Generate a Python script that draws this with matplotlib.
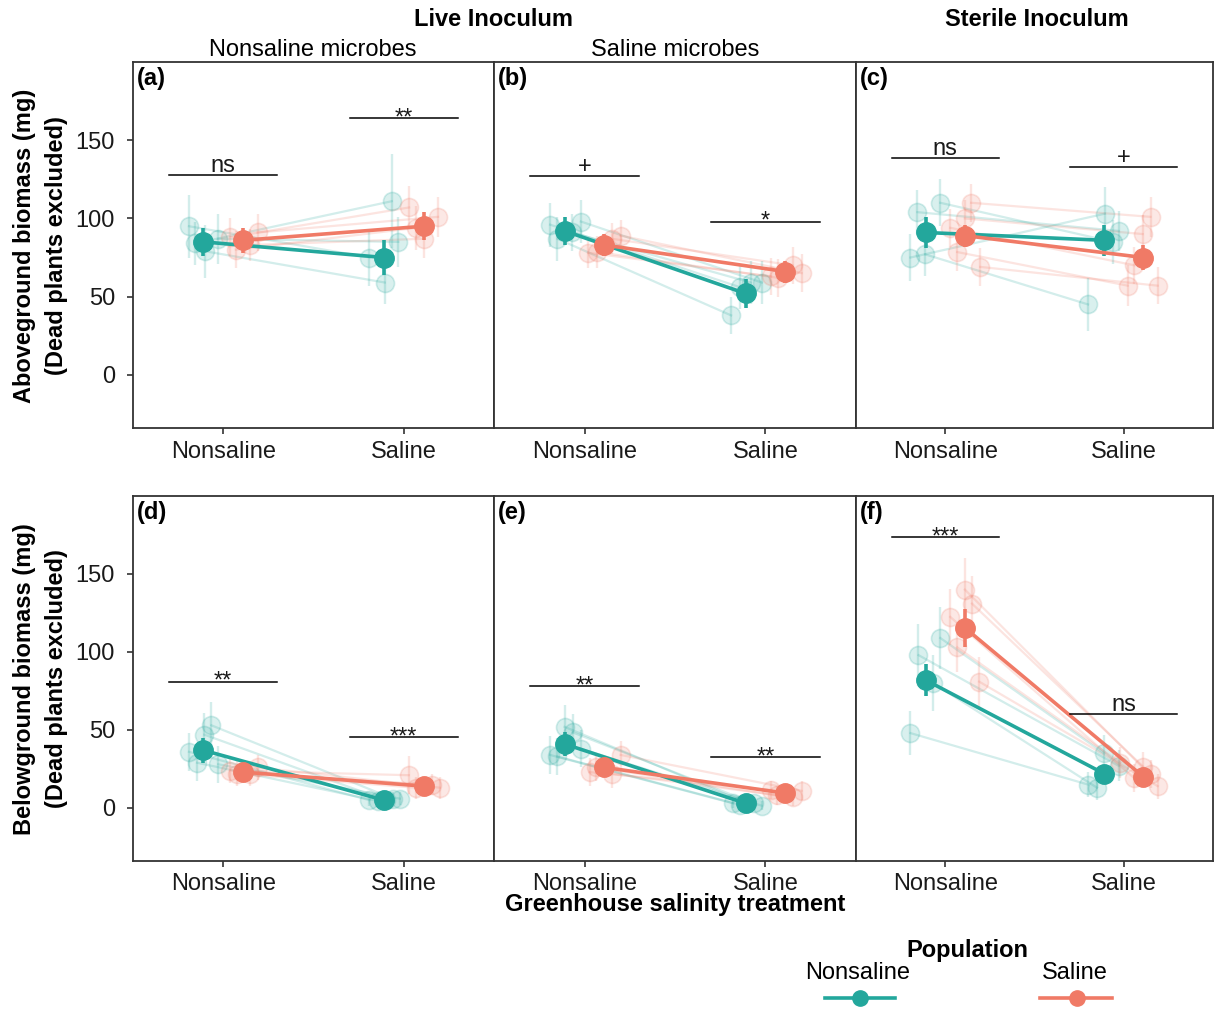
import matplotlib
matplotlib.use('Agg')
import matplotlib.pyplot as plt
from matplotlib.lines import Line2D
from matplotlib.colors import to_rgba

plt.rcParams['font.family'] = ['Liberation Sans', 'DejaVu Sans']

# colours
TEAL = '#23A79C'
SALM = '#F07A66'

# treatments on x
treatments = ['Nonsaline', 'Saline']
panels = ['(a)', '(b)', '(c)', '(d)', '(e)', '(f)']

# group means (Nonsaline population / Saline population), panels a-f
mean_teal_ns = [85, 92, 91, 37, 41, 82]
err_teal_ns = [9, 9, 10, 8, 8, 10]
mean_teal_sa = [75, 52, 86, 5, 3, 22]
err_teal_sa = [11, 9, 10, 2, 2, 4]
mean_sal_ns = [86, 83, 89, 23, 26, 115.5]
err_sal_ns = [8, 7, 7, 4, 4, 12]
mean_sal_sa = [95, 66, 75, 14, 9.5, 20]
err_sal_sa = [9, 7, 8, 3, 3, 4]

# single populations: (x offset ns, y ns, err ns, x offset sa, y sa, err sa)
teal_a = [(-0.19, 95, 20, -0.19, 75, 18), (-0.155, 84, 14, -0.066, 111, 30),
          (-0.10, 79, 17, -0.105, 59, 14), (-0.03, 87, 16, -0.03, 85, 16)]
sal_a = [(0.04, 88, 12, 0.03, 107, 14), (0.07, 80, 12, 0.07, 94, 14),
         (0.15, 83, 10, 0.11, 87, 12), (0.19, 91, 12, 0.19, 101, 13)]
teal_b = [(-0.19, 96, 14, -0.14, 56, 14), (-0.15, 87, 14, -0.19, 38, 12),
          (-0.02, 98, 14, -0.02, 59, 14), (-0.07, 91, 12, -0.08, 59, 14)]
sal_b = [(0.02, 78, 10, 0.03, 63, 12), (0.07, 78.5, 10, 0.07, 62, 12),
         (0.15, 87, 10, 0.15, 70, 12), (0.20, 89, 10, 0.20, 65, 12)]
teal_c = [(-0.156, 104, 14, -0.028, 92, 13), (-0.028, 110, 15, -0.06, 85, 14),
          (-0.195, 75, 15, -0.106, 103, 17), (-0.112, 77, 14, -0.20, 45, 17)]
sal_c = [(0.145, 110, 12, 0.15, 101, 13), (0.11, 100, 12, 0.106, 90, 12),
         (0.028, 94, 12, 0.06, 70, 12), (0.067, 78.5, 12, 0.022, 57, 13),
         (0.196, 69, 12, 0.19, 57, 12)]
teal_d = [(-0.19, 36, 12, -0.19, 5, 4), (-0.145, 29, 12, -0.144, 4.5, 4),
          (-0.105, 47, 14, -0.10, 5, 4), (-0.066, 53, 15, -0.06, 6, 4),
          (-0.028, 28, 12, -0.022, 6, 4)]
sal_d = [(0.04, 24, 8, 0.028, 21, 12), (0.077, 22, 8, 0.066, 13, 7),
         (0.15, 22, 8, 0.155, 15, 7), (0.19, 26, 8, 0.20, 13, 7)]
teal_e = [(-0.19, 34, 12, -0.18, 3, 3), (-0.15, 33, 12, -0.14, 2, 3),
          (-0.11, 52, 14, -0.10, 3, 3), (-0.066, 48.5, 12, -0.066, 3, 3),
          (-0.022, 38, 12, -0.022, 1.5, 3)]
sal_e = [(0.028, 23, 9, 0.033, 11.5, 6), (0.066, 26, 9, 0.066, 8, 6),
         (0.15, 22, 9, 0.15, 7, 6), (0.20, 34, 9, 0.20, 11, 6)]
teal_f = [(-0.195, 48, 14, -0.20, 15, 8), (-0.15, 98, 20, -0.028, 27, 10),
          (-0.028, 109, 20, -0.11, 35, 12), (-0.067, 80, 18, -0.15, 13, 8)]
sal_f = [(0.11, 140, 20, 0.106, 26, 10), (0.15, 131, 18, 0.15, 22, 9),
         (0.028, 122.5, 18, 0.06, 19, 9), (0.067, 103, 16, -0.02, 29, 10),
         (0.19, 81, 16, 0.19, 14, 8)]
teal_pops = [teal_a, teal_b, teal_c, teal_d, teal_e, teal_f]
sal_pops = [sal_a, sal_b, sal_c, sal_d, sal_e, sal_f]

# significance brackets
sig_left = ['ns', '+', 'ns', '**', '**', '***']
sig_left_y = [128, 127, 138.5, 81, 78, 173.5]
sig_right = ['**', '*', '+', '***', '**', 'ns']
sig_right_y = [164, 98, 133, 45.5, 32.5, 60.5]

FS = 17

fig = plt.figure(figsize=(12.14, 10.09), dpi=100)

lefts = [133 / 1214, 494 / 1214, 856 / 1214]
widths = [361 / 1214, 362 / 1214, 357 / 1214]
rows = [(1 - 428 / 1009, 366 / 1009), (1 - 861 / 1009, 365 / 1009)]


def faint(ax, pops, col):
    for o1, y1, e1, o2, y2, e2 in pops:
        xs = [1 + o1, 2 + o2]
        ys = [y1, y2]
        ax.plot(xs, ys, color=col, alpha=0.2, lw=1.6, zorder=1)
        ax.errorbar(xs, ys, yerr=[e1, e2], fmt='none', ecolor=to_rgba(col, 0.2),
                    elinewidth=1.7, zorder=2)
        ax.plot(xs, ys, 'o', ls='none', ms=13, mfc=to_rgba(col, 0.17),
                mec=to_rgba(col, 0.2), mew=1.2, zorder=3)


def bracket(ax, xc, y, label):
    ax.plot([xc - 0.3, xc + 0.3], [y, y], color='black', lw=1.1, zorder=6)
    if '*' in label:
        ax.annotate(label, (xc, y), xytext=(0, -4.5), textcoords='offset points',
                    ha='center', va='baseline', fontsize=FS, color='#1a1a1a')
    else:
        ax.annotate(label, (xc, y), xytext=(0, 2.2), textcoords='offset points',
                    ha='center', va='baseline', fontsize=FS, color='#1a1a1a')


axes = []
for i in range(6):
    r, c = divmod(i, 3)
    ax = fig.add_axes([lefts[c], rows[r][0], widths[c], rows[r][1]])
    axes.append(ax)

    faint(ax, teal_pops[i], TEAL)
    faint(ax, sal_pops[i], SALM)

    ax.errorbar([0.89, 1.89], [mean_teal_ns[i], mean_teal_sa[i]],
                yerr=[err_teal_ns[i], err_teal_sa[i]], fmt='-o', color=TEAL,
                lw=2.6, ms=14, elinewidth=2.6, zorder=5)
    ax.errorbar([1.11, 2.11], [mean_sal_ns[i], mean_sal_sa[i]],
                yerr=[err_sal_ns[i], err_sal_sa[i]], fmt='-o', color=SALM,
                lw=2.6, ms=14, elinewidth=2.6, zorder=5)

    bracket(ax, 1, sig_left_y[i], sig_left[i])
    bracket(ax, 2, sig_right_y[i], sig_right[i])

    ax.set_xlim(0.5, 2.5)
    ax.set_ylim(-34, 200)
    ax.set_xticks([1, 2])
    ax.set_xticklabels(treatments, fontsize=FS, color='#1a1a1a')
    ax.set_yticks([0, 50, 100, 150])
    ax.tick_params(axis='x', length=4, width=1.2, pad=5, color='#333333')
    if c == 0:
        ax.tick_params(axis='y', length=4, width=1.2, pad=9, labelsize=FS,
                       color='#333333', labelcolor='#1a1a1a')
    else:
        ax.tick_params(axis='y', left=False, labelleft=False)
    for s in ax.spines.values():
        s.set_linewidth(1.3)
        s.set_color('#333333')
    ax.text(0.01, 0.985, panels[i], transform=ax.transAxes, ha='left', va='top',
            fontsize=FS, fontweight='bold')

# headers
fig.text(494 / 1214, 1 - 19 / 1009, 'Live Inoculum', ha='center', va='center',
         fontsize=FS, fontweight='bold')
fig.text(1037 / 1214, 1 - 19 / 1009, 'Sterile Inoculum', ha='center', va='center',
         fontsize=FS, fontweight='bold')
fig.text(313 / 1214, 1 - 50 / 1009, 'Nonsaline microbes', ha='center', va='center',
         fontsize=FS)
fig.text(675 / 1214, 1 - 50 / 1009, 'Saline microbes', ha='center', va='center',
         fontsize=FS)

# axis labels
fig.text(41 / 1214, 1 - 246 / 1009, 'Aboveground biomass (mg)\n(Dead plants excluded)',
         rotation=90, ha='center', va='center', fontsize=FS, fontweight='bold',
         linespacing=1.5)
fig.text(41 / 1214, 1 - 679 / 1009, 'Belowground biomass (mg)\n(Dead plants excluded)',
         rotation=90, ha='center', va='center', fontsize=FS, fontweight='bold',
         linespacing=1.5)
fig.text(675 / 1214, 1 - 905 / 1009, 'Greenhouse salinity treatment', ha='center',
         va='center', fontsize=FS, fontweight='bold')

# legend
fig.text(967 / 1214, 1 - 950 / 1009, 'Population', ha='center', va='center',
         fontsize=FS, fontweight='bold')
leg_y = 1 - 998 / 1009
for lab, col, xl, xr, xm in [('Nonsaline', TEAL, 825, 895, 860),
                             ('Saline', SALM, 1040, 1112, 1077)]:
    fig.text(xm / 1214 - 2 / 1214, 1 - 973 / 1009, lab, ha='center', va='center',
             fontsize=FS)
    fig.add_artist(Line2D([xl / 1214, xr / 1214], [leg_y, leg_y],
                          transform=fig.transFigure, color=col, lw=2.6))
    fig.add_artist(Line2D([xm / 1214], [leg_y], transform=fig.transFigure,
                          color=col, marker='o', ms=11, ls='none'))

fig.savefig('out.png', dpi=100, facecolor='white')
